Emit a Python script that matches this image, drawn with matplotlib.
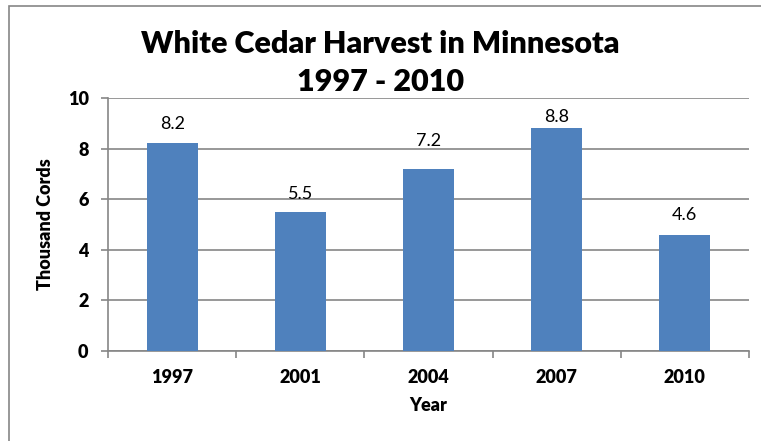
import numpy as np
import matplotlib.pyplot as plt
from matplotlib.patches import Rectangle

# data
years = ["1997", "2001", "2004", "2007", "2010"]
harvest = [8.2, 5.5, 7.2, 8.8, 4.6]
y_ticks = [0, 2, 4, 6, 8, 10]

BAR_COLOR = "#4F81BD"
GRID_COLOR = "#868686"
BOLD = 'heavy'
# the data labels were nudged by hand in the original, offsets in points above bar top
LABEL_OFFSETS = [14, 13, 20, 8, 14]
plt.rcParams['font.family'] = ['Lato', 'DejaVu Sans']

fig = plt.figure(figsize=(7.61, 4.41), dpi=100)
ax = fig.add_axes([0.142, 0.204, 0.842, 0.574])

x = np.arange(len(years))
bars = ax.bar(x, harvest, width=0.40, color=BAR_COLOR, zorder=3)
for xi, v, off in zip(x, harvest, LABEL_OFFSETS):
    ax.annotate(f"{v:.1f}", (xi, v), xytext=(0, off), textcoords='offset points',
                ha='center', va='center', fontsize=13, zorder=4)

ax.set_xlim(-0.5, len(years) - 0.5)
ax.set_ylim(0, 10)
ax.set_yticks(y_ticks)
ax.set_yticklabels([str(t) for t in y_ticks], fontweight=BOLD, fontsize=13)
ax.yaxis.grid(True, color=GRID_COLOR, lw=1.2, zorder=0)

# categories labels in middle, tick marks at boundaries
ax.set_xticks(np.arange(-0.5, len(years)), minor=False)
ax.set_xticklabels([])
ax.set_xticks(x, minor=True)
ax.set_xticklabels(years, minor=True, fontweight=BOLD, fontsize=13)
ax.tick_params(axis='x', which='major', length=5, width=1.2, color=GRID_COLOR, direction='out')
ax.tick_params(axis='x', which='minor', length=0, pad=13)
ax.tick_params(axis='y', length=5, width=1.2, color=GRID_COLOR, pad=9)

for side in ['top', 'right']:
    ax.spines[side].set_visible(False)
for side in ['left', 'bottom']:
    ax.spines[side].set_color(GRID_COLOR)
    ax.spines[side].set_linewidth(1.2)

ax.set_xlabel("Year", fontweight=BOLD, fontsize=13, labelpad=8)
ax.set_ylabel("Thousand Cords", fontweight=BOLD, fontsize=13, labelpad=10)

fig.text(0.5, 0.857, "White Cedar Harvest in Minnesota\n1997 - 2010", ha='center', va='center',
         fontweight=BOLD, fontsize=22, linespacing=1.45)

# outer chart border
fig.patches.append(Rectangle((0.012, -0.01), 0.99, 0.996, transform=fig.transFigure,
                             fill=False, edgecolor=GRID_COLOR, lw=1.2))

fig.savefig("out.png", dpi=100)
